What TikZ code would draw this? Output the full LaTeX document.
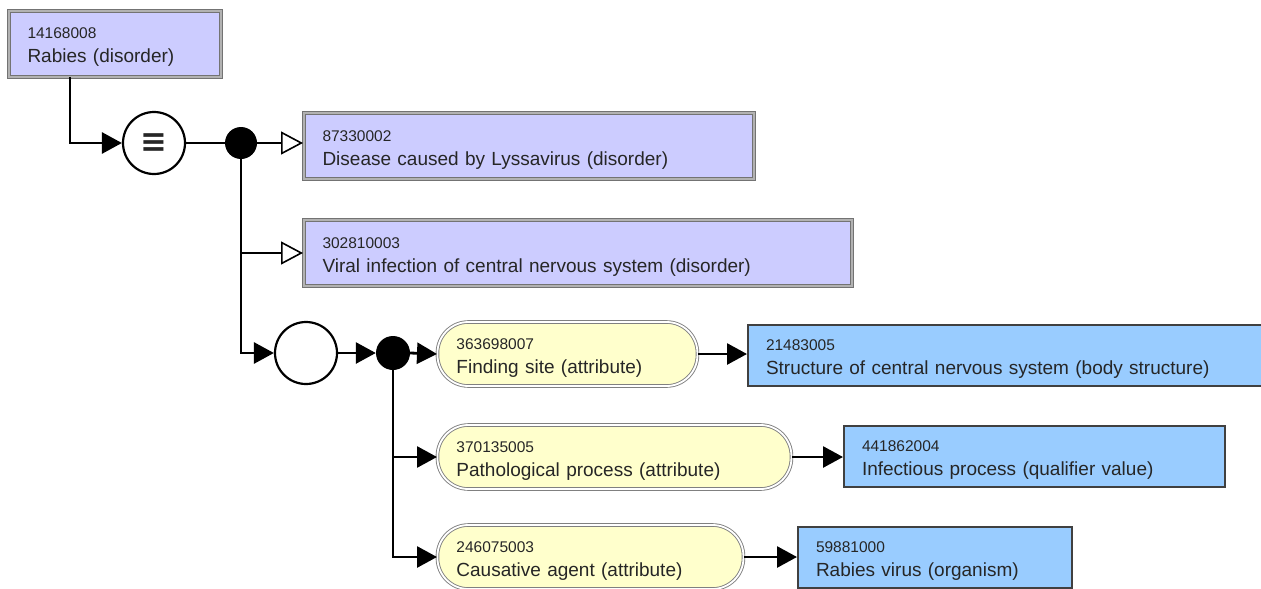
\documentclass[tikz,border=0pt]{standalone}
\usepackage{fontspec}
\setmainfont{Liberation Sans}
\newfontfamily\symfont{DejaVu Sans}
\usetikzlibrary{calc,positioning,arrows.meta}
\definecolor{primcol}{HTML}{CCCCFF}
\definecolor{attrcol}{HTML}{FFFFCC}
\definecolor{valcol}{HTML}{99CCFF}
\newcommand{\sctid}[1]{{\fontsize{15.5}{16}\selectfont\rule{0pt}{18pt}#1}\\}

\begin{document}
\begin{tikzpicture}[x=1pt,y=-1pt,
    every node/.style={text=black!85,font=\fontsize{19}{24}\selectfont},
    concept/.style={draw=black!55,double=black!30,line width=1pt,double distance=2pt,fill=primcol,
      anchor=west,minimum height=66pt,inner xsep=19pt,align=left,text width=#1},
    attr/.style={draw=black!50,double=white,line width=0.9pt,double distance=1.8pt,fill=attrcol,
      rounded corners=31pt,anchor=west,minimum height=64pt,inner xsep=19pt,align=left,text width=#1},
    val/.style={draw=black!75,line width=2pt,fill=valcol,
      anchor=west,minimum height=61pt,inner xsep=18pt,align=left,text width=#1},
    ring/.style={draw=black,line width=2.2pt,fill=white,circle,minimum size=62pt,inner sep=0pt},
    ele/.style={fill=black,circle,minimum size=#1,inner sep=0pt},
    conn/.style={draw=black,line width=2.8pt},
    has/.style={-{Triangle[length=20pt,width=21pt]}},
    isa/.style={-{Triangle[open,length=22pt,width=23pt,line width=1.6pt]}}]
  \useasboundingbox (0,0) rectangle (1261,589);
  \clip (0,0) rectangle (1261,589);

  % defining concept and its parents
  \node[concept=174pt] (c0) at (8,43.5) {\sctid{14168008}Rabies (disorder)};
  \node[ring] (eq) at (154,143) {\symfont\bfseries\fontsize{32}{32}\selectfont ≡};
  \node[ele=32pt] (d1) at (241,143) {};
  \node[concept=412pt] (c1) at (303,146) {\sctid{87330002}Disease caused by Lyssavirus (disorder)};
  \node[concept=510pt] (c2) at (303,253) {\sctid{302810003}Viral infection of central nervous system (disorder)};

  % attribute group
  \node[ring] (grp) at (306,353) {};
  \node[ele=34pt] (d2) at (393,353) {};
  \node[attr=222pt] (a1) at (437,354) {\sctid{363698007}Finding site (attribute)};
  \node[val=490pt] (v1) at (747,355.5) {\sctid{21483005}Structure of central nervous system (body structure)};
  \node[attr=316pt] (a2) at (437,457) {\sctid{370135005}Pathological process (attribute)};
  \node[val=345pt] (v2) at (843,456.5) {\sctid{441862004}Infectious process (qualifier value)};
  \node[attr=268pt] (a3) at (437,557) {\sctid{246075003}Causative agent (attribute)};
  \node[val=238pt] (v3) at (797,557) {\sctid{59881000}Rabies virus (organism)};

  \draw[conn,has] ($(c0.south west)+(62,0)$) |- (eq.west);
  \draw[draw=black,line width=1.5pt] (eq.east) -- (d1.west);
  \draw[conn,isa] (d1.east) -- (d1 -| c1.west);
  \draw[conn,isa] (d1.south) |- (c2.west);
  \draw[conn,has] (d1.south) |- (grp.west);
  \draw[conn,has] (grp.east) -- (d2.west);
  \draw[conn,has] (d2.east) -- (a1.west);
  \draw[conn,has] (d2.south) |- (a2.west);
  \draw[conn,has] (d2.south) |- (a3.west);
  \draw[conn,has] (a1.east) -- (a1.east -| v1.west);
  \draw[conn,has] (a2.east) -- (a2.east -| v2.west);
  \draw[conn,has] (a3.east) -- (a3.east -| v3.west);
\end{tikzpicture}
\end{document}
